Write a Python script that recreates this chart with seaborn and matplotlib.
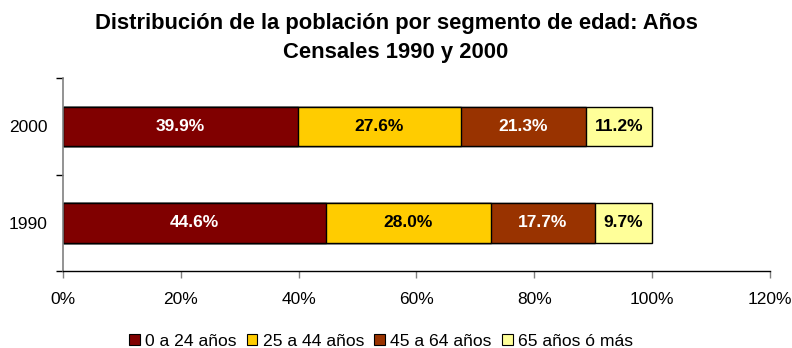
import matplotlib
matplotlib.use("Agg")
import matplotlib.pyplot as plt
import seaborn as sns
import numpy as np
import pandas as pd
from matplotlib.patches import Patch
from matplotlib.ticker import MultipleLocator, FuncFormatter

years = ["2000", "1990"]
segments = ["0 a 24 años", "25 a 44 años", "45 a 64 años", "65 años ó más"]
values_2000 = [39.9, 27.6, 21.3, 11.2]
values_1990 = [44.6, 28.0, 17.7, 9.7]
colors = ["#800000", "#FFCC00", "#993300", "#FFFF99"]
label_colors = ["white", "black", "white", "black"]

sns.set_theme(style="white")
plt.rcParams["font.family"] = ["Liberation Sans", "DejaVu Sans"]
plt.rcParams["text.color"] = "black"
plt.rcParams["xtick.color"] = "black"
plt.rcParams["ytick.color"] = "black"

vals = np.array([values_2000, values_1990])
cum = np.cumsum(vals, axis=1)

fig = plt.figure(figsize=(7.92, 3.48), dpi=100)
ax = fig.add_axes([0.0795, 0.221, 0.8925, 0.554])

# Stacked bars: draw cumulative totals from the outermost segment inward
for i in range(len(segments) - 1, -1, -1):
    df = pd.DataFrame({"year": years, "cum": cum[:, i]})
    sns.barplot(data=df, x="cum", y="year", orient="h", order=years,
                color=colors[i], saturation=1, width=0.41,
                edgecolor="black", linewidth=1.0, ax=ax)

# Value labels centred in each segment
for r in range(len(years)):
    starts = np.concatenate([[0], cum[r, :-1]])
    for i in range(len(segments)):
        ax.text(starts[i] + vals[r, i] / 2, r, f"{vals[r, i]:.1f}%",
                ha="center", va="center", fontsize=12.5, fontweight="bold",
                color=label_colors[i])

ax.set_xlim(0, 120)
ax.set_ylim(1.5, -0.5)
ax.xaxis.set_major_locator(MultipleLocator(20))
ax.xaxis.set_major_formatter(FuncFormatter(lambda v, p: f"{v:.0f}%"))
ax.set_xlabel("")
ax.set_ylabel("")

# Category tick marks sit between bars; labels at bar centres
ax.set_yticks([0, 1])
ax.set_yticklabels(years)
ax.set_yticks([-0.5, 0.5, 1.5], minor=True)
ax.tick_params(axis="y", which="major", length=0, pad=11, labelsize=12.5)
ax.tick_params(axis="y", which="minor", length=5, width=1.0, color="black", left=True)
ax.tick_params(axis="x", which="major", length=5, width=1.0, color="#808080",
               bottom=True, labelsize=12.5, pad=10)

for side in ["top", "right"]:
    ax.spines[side].set_visible(False)
ax.spines["left"].set_color("#808080")
ax.spines["left"].set_linewidth(1.2)
ax.spines["bottom"].set_color("black")
ax.spines["bottom"].set_linewidth(1.0)

fig.suptitle("Distribución de la población por segmento de edad: Años\nCensales 1990 y 2000",
             x=0.5, y=0.962, fontsize=15.8, fontweight="bold", linespacing=1.5)

handles = [Patch(facecolor=c, edgecolor="black", linewidth=0.8) for c in colors]
fig.legend(handles, segments, loc="lower center", bbox_to_anchor=(0.481, -0.047),
           ncol=4, frameon=False, fontsize=12.6, handlelength=0.6, handleheight=0.6,
           handletextpad=0.3, columnspacing=0.6)

fig.savefig("out.png", dpi=100)
